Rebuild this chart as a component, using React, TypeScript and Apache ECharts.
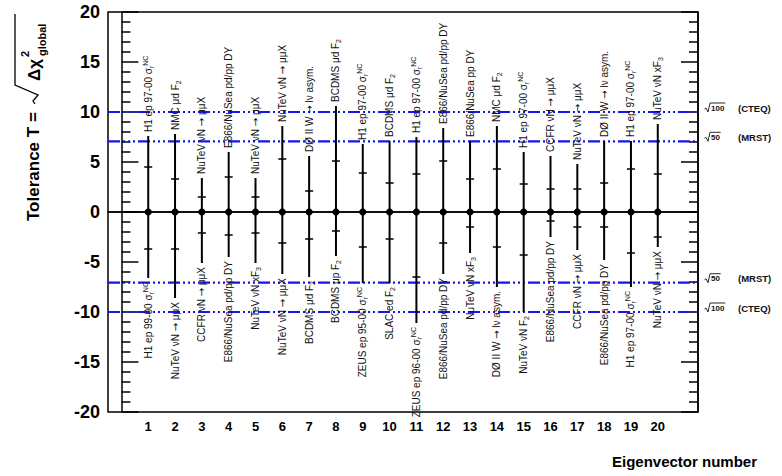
import React, { useEffect, useRef } from 'react';
import * as echarts from 'echarts';

const FONT = '"Liberation Sans", Arial, Helvetica, sans-serif';

// Eigenvector index on the x axis
const eigenvectors = [1, 2, 3, 4, 5, 6, 7, 8, 9, 10, 11, 12, 13, 14, 15, 16, 17, 18, 19, 20];

// Tolerance reached in the + direction (outer end) and the inner mark
const upperOuter = [7.6, 7.8, 3.4, 6.0, 3.4, 8.6, 5.6, 10.6, 6.8, 7.1, 7.5, 8.4, 7.1, 8.6, 6.0, 5.6, 4.8, 7.1, 7.1, 8.8];
const upperInner = [4.5, 3.3, 1.5, 3.5, 1.5, 5.3, 2.1, 5.1, 3.9, 2.9, 3.8, 5.1, 3.3, 4.3, 2.8, 2.3, 2.3, 2.9, 4.3, 3.8];

// Tolerance reached in the - direction (outer end) and the inner mark
const lowerOuter = [-6.6, -8.6, -5.1, -4.5, -5.1, -6.2, -6.5, -4.4, -7.1, -7.1, -11.1, -6.2, -4.1, -7.5, -10.0, -2.5, -3.8, -4.8, -7.5, -3.5];
const lowerInner = [-3.7, -3.7, -2.1, -2.3, -2.1, -3.1, -2.7, -1.9, -3.5, -2.7, -6.5, -3.1, -1.5, -3.5, -4.3, -0.9, -1.5, -1.5, -4.1, -2.5];

// Data set that fixes the tolerance in each direction
const upperLabels = [
  'H1 ep 97-00 σ{sub|r}{sup|NC}',
  'NMC μd F{sub|2}',
  'NuTeV νN {ar|→} μμX',
  'E866/NuSea pd/pp DY',
  'NuTeV νN {ar|→} μμX',
  'NuTeV νN {ar|→} μμX',
  'DØ II W {ar|→} lν asym.',
  'BCDMS μd F{sub|2}',
  'H1 ep 97-00 σ{sub|r}{sup|NC}',
  'BCDMS μd F{sub|2}',
  'H1 ep 97-00 σ{sub|r}{sup|NC}',
  'E866/NuSea pd/pp DY',
  'E866/NuSea pp DY',
  'NMC μd F{sub|2}',
  'H1 ep 97-00 σ{sub|r}{sup|NC}',
  'CCFR νN {ar|→} μμX',
  'NuTeV νN {ar|→} μμX',
  'DØ II W {ar|→} lν asym.',
  'H1 ep 97-00 σ{sub|r}{sup|NC}',
  'NuTeV νN xF{sub|3}',
];
const lowerLabels = [
  'H1 ep 99-00 σ{sub|r}{sup|NC}',
  'NuTeV νN {ar|→} μμX',
  'CCFR νN {ar|→} μμX',
  'E866/NuSea pd/pp DY',
  'NuTeV νN xF{sub|3}',
  'NuTeV νN {ar|→} μμX',
  'BCDMS μd F{sub|2}',
  'BCDMS μp F{sub|2}',
  'ZEUS ep 95-00 σ{sub|r}{sup|NC}',
  'SLAC ed F{sub|2}',
  'ZEUS ep 96-00 σ{sub|r}{sup|NC}',
  'E866/NuSea pd/pp DY',
  'NuTeV νN xF{sub|3}',
  'DØ II W {ar|→} lν asym.',
  'NuTeV νN F{sub|2}',
  'E866/NuSea pd/pp DY',
  'CCFR νN {ar|→} μμX',
  'E866/NuSea pd/pp DY',
  'H1 ep 97-00 σ{sub|r}{sup|NC}',
  'NuTeV νN {ar|→} μμX',
];

// Tolerance criteria: Δχ² thresholds and the group using each
const deltaChi2 = [100, 50, 50, 100];
const levelSign = [1, 1, -1, -1];
const levelGroups = ['(CTEQ)', '(MRST)', '(MRST)', '(CTEQ)'];

const xLabels = eigenvectors;

const labelRich = {
  sub: { fontSize: 7, fontFamily: FONT, lineHeight: 7, verticalAlign: 'bottom', fill: '#111', color: '#111' },
  sup: { fontSize: 7, fontFamily: FONT, lineHeight: 7, verticalAlign: 'top', fill: '#111', color: '#111' },
  ar: { fontSize: 10, fontFamily: '"DejaVu Sans", sans-serif', lineHeight: 13, fill: '#111', color: '#111' },
};

export default function App() {
  const ref = useRef<HTMLDivElement>(null);

  useEffect(() => {
    if (!ref.current) return;
    const chart = echarts.init(ref.current, null, { renderer: 'svg' });

    const barData = eigenvectors.map((n, i) => [n, upperOuter[i], upperInner[i], lowerInner[i], lowerOuter[i]]);
    const levelData = deltaChi2.map((d, i) => [0, levelSign[i] * Math.sqrt(d)]);

    const tickStyle = { color: '#000', width: 1.5 };

    chart.setOption({
      animation: false,
      backgroundColor: '#fff',
      grid: {
        left: 108,
        top: 12,
        right: 84,
        bottom: 64,
        show: true,
        borderColor: '#000',
        borderWidth: 1.5,
        backgroundColor: 'transparent',
      },
      xAxis: {
        type: 'value',
        min: -0.5,
        max: 21.5,
        splitLine: { show: false },
        axisLine: { show: true, lineStyle: { color: '#000', width: 1.5 } },
        axisTick: { show: false },
        axisLabel: {
          customValues: xLabels,
          color: '#000',
          fontFamily: FONT,
          fontWeight: 'bold',
          fontSize: 13,
          margin: 8,
        },
      },
      yAxis: [
        {
          type: 'value',
          position: 'left',
          min: -20,
          max: 20,
          interval: 5,
          splitLine: { show: false },
          axisLine: { show: true, lineStyle: { color: '#000', width: 1.5 } },
          axisTick: { show: true, inside: true, length: 17, lineStyle: tickStyle },
          minorTick: { show: true, splitNumber: 5, length: 9, lineStyle: tickStyle },
          axisLabel: { color: '#000', fontFamily: FONT, fontWeight: 'bold', fontSize: 18, margin: 8 },
        },
        {
          type: 'value',
          position: 'right',
          min: -20,
          max: 20,
          interval: 5,
          splitLine: { show: false },
          axisLine: { show: true, lineStyle: { color: '#000', width: 1.5 } },
          axisTick: { show: true, inside: true, length: 17, lineStyle: tickStyle },
          minorTick: { show: true, splitNumber: 5, length: 9, lineStyle: tickStyle },
          axisLabel: { show: false },
        },
      ],
      graphic: [
        {
          type: 'group',
          x: 33,
          y: 221,
          rotation: Math.PI / 2,
          children: [
            {
              type: 'text',
              x: 0,
              y: 0,
              style: {
                text: 'Tolerance T =',
                font: `bold 17px ${FONT}`,
                fill: '#000',
                align: 'left',
                verticalAlign: 'middle',
                textAlign: 'left',
                textVerticalAlign: 'middle',
              },
            },
            {
              type: 'polyline',
              shape: { points: [[117, 2], [120, 0], [126, 5], [136, -18], [207, -18]] },
              style: { stroke: '#000', lineWidth: 1.3, fill: 'none' },
            },
            {
              type: 'text',
              x: 140,
              y: 1,
              style: {
                text: 'Δχ',
                font: `bold 17px ${FONT}`,
                fill: '#000',
                align: 'left',
                verticalAlign: 'middle',
                textAlign: 'left',
                textVerticalAlign: 'middle',
              },
            },
            {
              type: 'text',
              x: 164,
              y: -8,
              style: {
                text: '2',
                font: `bold 11px ${FONT}`,
                fill: '#000',
                align: 'left',
                verticalAlign: 'middle',
                textAlign: 'left',
                textVerticalAlign: 'middle',
              },
            },
            {
              type: 'text',
              x: 165,
              y: 9,
              style: {
                text: 'global',
                font: `bold 11px ${FONT}`,
                fill: '#000',
                align: 'left',
                verticalAlign: 'middle',
                textAlign: 'left',
                textVerticalAlign: 'middle',
              },
            },
          ],
        },
        {
          type: 'text',
          x: 757,
          y: 461,
          style: {
            text: 'Eigenvector number',
            font: `bold 15px ${FONT}`,
            fill: '#000',
            align: 'right',
            verticalAlign: 'middle',
            textAlign: 'right',
            textVerticalAlign: 'middle',
          },
        },
      ],
      series: [
        {
          name: 'levels',
          type: 'custom',
          z: 2,
          data: levelData,
          clip: false,
          renderItem: (params: any, api: any) => {
            const cs = params.coordSys;
            const i = params.dataIndex;
            const y = api.coord([0, api.value(1)])[1];
            const x0 = cs.x + cs.width;
            const ty = y - 4;
            const num = String(deltaChi2[i]);
            const numW = num.length * 4.6;
            return {
              type: 'group',
              children: [
                {
                  type: 'line',
                  shape: { x1: cs.x, y1: y, x2: x0, y2: y },
                  style: { stroke: '#1515f0', lineWidth: 2.2, lineDash: [12, 3, 2, 3, 2, 3, 2, 3] },
                },
                {
                  type: 'polyline',
                  shape: {
                    points: [
                      [x0 + 6.5, ty + 1],
                      [x0 + 8, ty],
                      [x0 + 10, ty + 4],
                      [x0 + 12, ty - 5],
                      [x0 + 13.5 + numW, ty - 5],
                    ],
                  },
                  style: { stroke: '#111', lineWidth: 0.9, fill: 'none' },
                },
                {
                  type: 'text',
                  x: x0 + 13,
                  y: ty,
                  style: {
                    text: num,
                    font: `bold 8px ${FONT}`,
                    fill: '#111',
                    align: 'left',
                    verticalAlign: 'middle',
                    textAlign: 'left',
                    textVerticalAlign: 'middle',
                  },
                },
                {
                  type: 'text',
                  x: x0 + 40,
                  y: ty,
                  style: {
                    text: levelGroups[i],
                    font: `bold 9.5px ${FONT}`,
                    fill: '#111',
                    align: 'left',
                    verticalAlign: 'middle',
                    textAlign: 'left',
                    textVerticalAlign: 'middle',
                  },
                },
              ],
            };
          },
          markLine: {
            silent: true,
            symbol: ['none', 'none'],
            label: { show: false },
            lineStyle: { color: '#000', width: 1.5, type: 'solid' },
            data: [{ yAxis: 0 }],
          },
        },
        {
          name: 'eigenvectors',
          type: 'custom',
          z: 3,
          clip: false,
          data: barData,
          encode: { x: 0, y: [1, 2, 3, 4] },
          renderItem: (params: any, api: any) => {
            const i = params.dataIndex;
            const n = api.value(0);
            const [cx, cy] = api.coord([n, 0]);
            const yHiO = api.coord([n, api.value(1)])[1];
            const yHiI = api.coord([n, api.value(2)])[1];
            const yLoI = api.coord([n, api.value(3)])[1];
            const yLoO = api.coord([n, api.value(4)])[1];
            const stroke = { stroke: '#000', lineWidth: 2 };
            const textBase = {
              fontSize: 10,
              fontFamily: FONT,
              lineHeight: 13,
              fill: '#111',
              verticalAlign: 'middle',
              textVerticalAlign: 'middle',
              rich: labelRich,
            };
            return {
              type: 'group',
              children: [
                { type: 'line', shape: { x1: cx, y1: yLoO, x2: cx, y2: yHiO }, style: stroke },
                { type: 'line', shape: { x1: cx - 4, y1: yHiI, x2: cx + 4, y2: yHiI }, style: { stroke: '#000', lineWidth: 1.5 } },
                { type: 'line', shape: { x1: cx - 4, y1: yLoI, x2: cx + 4, y2: yLoI }, style: { stroke: '#000', lineWidth: 1.5 } },
                { type: 'circle', shape: { cx, cy, r: 3.6 }, style: { fill: '#000' } },
                {
                  type: 'text',
                  x: cx,
                  y: yHiO - 4,
                  rotation: Math.PI / 2,
                  style: { ...textBase, text: upperLabels[i], align: 'left', textAlign: 'left' },
                },
                {
                  type: 'text',
                  x: cx,
                  y: yLoO + 4,
                  rotation: Math.PI / 2,
                  style: { ...textBase, text: lowerLabels[i], align: 'right', textAlign: 'right' },
                },
              ],
            };
          },
        },
      ],
    });

    return () => chart.dispose();
  }, []);

  return (
    <div
      ref={ref}
      style={{ position: 'fixed', left: 0, top: 0, width: 782, height: 476, background: '#fff' }}
    />
  );
}
